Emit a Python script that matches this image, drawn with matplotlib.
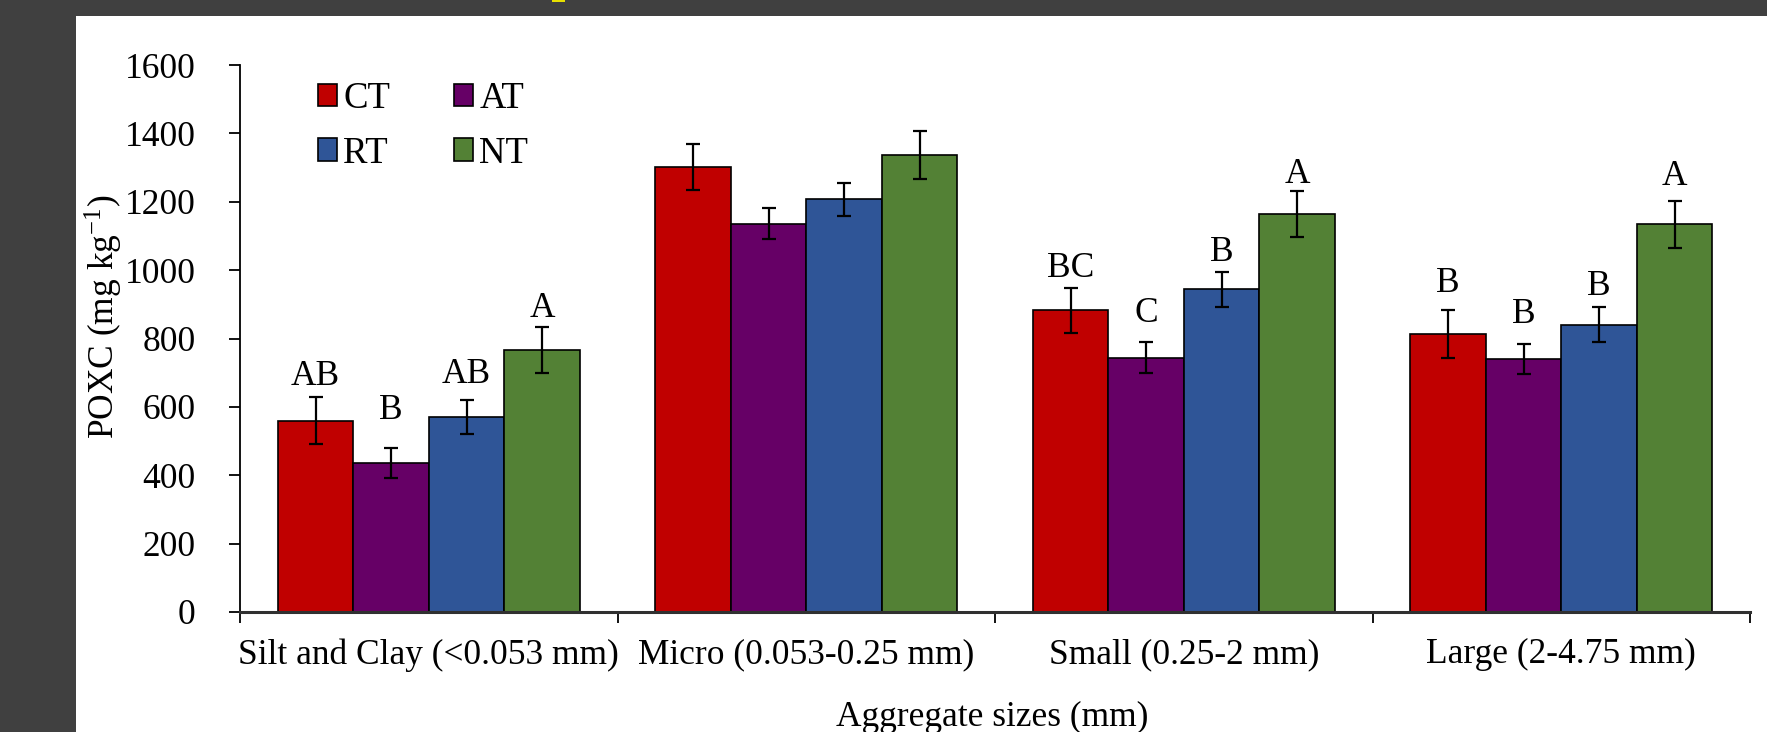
import numpy as np
import matplotlib
matplotlib.use("Agg")
import matplotlib.pyplot as plt
from matplotlib.patches import Rectangle

# POXC by aggregate size and tillage
categories = ["Silt and Clay (<0.053 mm)", "Micro (0.053-0.25 mm)",
              "Small (0.25-2 mm)", "Large (2-4.75 mm)"]
treatments = ["CT", "AT", "RT", "NT"]

ct = [560, 1301, 882, 813]
at = [437, 1136, 744, 740]
rt = [571, 1207, 944, 840]
nt = [766, 1337, 1163, 1134]

ct_err = [69, 67, 67, 69]
at_err = [44, 45, 45, 45]
rt_err = [50, 49, 51, 51]
nt_err = [68, 69, 67, 68]

ct_lab = ["AB", "", "BC", "B"]
at_lab = ["B", "", "C", "B"]
rt_lab = ["AB", "", "B", "B"]
nt_lab = ["A", "", "A", "A"]

# gap between error bar top and letter (data units)
ct_gap = [35, 0, 30, 54]
at_gap = [84, 0, 59, 60]
rt_gap = [48, 0, 33, 35]
nt_gap = [30, 0, 26, 47]

colors = ["#C00000", "#660066", "#2F5597", "#538135"]

plt.rcParams["font.family"] = ["Liberation Serif", "DejaVu Serif"]
plt.rcParams["mathtext.fontset"] = "stix"
FS = 25.5

W, H = 1767, 732
fig = plt.figure(figsize=(W / 100, H / 100), dpi=100)
fig.patch.set_facecolor("white")

# dark frame strips from the original screenshot
fig.patches.append(Rectangle((0, 0), 76 / W, 1, transform=fig.transFigure,
                             facecolor="#404040", edgecolor="none", zorder=-1))
fig.patches.append(Rectangle((0, 1 - 16 / H), 1, 16 / H, transform=fig.transFigure,
                             facecolor="#404040", edgecolor="none", zorder=-1))
fig.patches.append(Rectangle((552 / W, 1 - 2 / H), 13 / W, 2 / H, transform=fig.transFigure,
                             facecolor="#E8E000", edgecolor="none", zorder=-1))

ax = fig.add_axes([240 / W, 1 - 612 / H, (1750 - 240) / W, (612 - 65) / H])

x = np.arange(len(categories))
width = 0.2
series = [ct, at, rt, nt]
errs = [ct_err, at_err, rt_err, nt_err]
labs = [ct_lab, at_lab, rt_lab, nt_lab]
gaps = [ct_gap, at_gap, rt_gap, nt_gap]

handles = []
for i, (vals, e, lab, gap) in enumerate(zip(series, errs, labs, gaps)):
    pos = x + (i - 1.5) * width
    b = ax.bar(pos, vals, width, color=colors[i], edgecolor="black", linewidth=1.2,
               label=treatments[i], zorder=2)
    handles.append(b)
    ax.errorbar(pos, vals, yerr=e, fmt="none", ecolor="black", elinewidth=1.6,
                capsize=5, capthick=1.6, zorder=3)
    for p, v, ee, t, g in zip(pos, vals, e, lab, gap):
        if t:
            ax.text(p, v + ee + g, t, ha="center", va="baseline", fontsize=FS)

ax.set_xlim(-0.5, 3.5)
ax.set_ylim(0, 1600)
ax.set_yticks(np.arange(0, 1601, 200))
ax.set_xticks(np.arange(-0.5, 4, 1))
ax.set_xticklabels([])
ax.set_xticks(x, minor=True)
ax.set_xticklabels(categories, minor=True, fontsize=FS)
ax.tick_params(axis="x", which="minor", length=0, pad=19)
ax.tick_params(axis="x", which="major", length=8, width=1.3, direction="out")
ax.tick_params(axis="y", length=8, width=1.3, direction="out", labelsize=FS, pad=24)

for s in ["top", "right"]:
    ax.spines[s].set_visible(False)
ax.spines["left"].set_linewidth(1.3)
ax.spines["bottom"].set_linewidth(2.2)
ax.spines["bottom"].set_color("#303030")

ax.set_ylabel("POXC (mg kg$^{\\mathregular{-1}}$)", fontsize=FS)
ax.yaxis.set_label_coords(-0.077, 0.54)
fig.text(992 / W, 1 - 717 / H, "Aggregate sizes (mm)", ha="center", va="center", fontsize=FS)

# legend filled row-wise: CT AT / RT NT
order = [0, 2, 1, 3]
ax.legend([handles[k] for k in order], [treatments[k] for k in order],
          ncol=2, loc="upper left", bbox_to_anchor=(0.042, 0.997), frameon=False,
          fontsize=FS + 1, handlelength=0.5, handleheight=0.55, handletextpad=0.18,
          columnspacing=1.75, labelspacing=0.55, borderaxespad=0)

fig.savefig("out.png", dpi=100)
